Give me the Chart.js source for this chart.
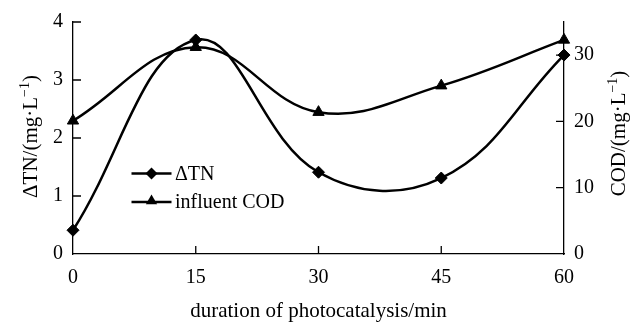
<!DOCTYPE html>
<html>
<head>
<meta charset="utf-8">
<script src="https://cdn.jsdelivr.net/npm/chart.js@4"></script>
<style>
  html, body { margin: 0; padding: 0; background: #fff; }
  #wrap { width: 638px; height: 326px; position: relative; }
</style>
</head>
<body>
<div id="wrap"><canvas id="c"></canvas></div>
<script>
// Photocatalysis duration (min)
const durations = [0, 15, 30, 45, 60];
// ΔTN removal, mg/L (left axis)
const deltaTN = [0.41, 3.69, 1.41, 1.31, 3.43];
// Influent COD, mg/L (right axis)
const influentCOD = [20.1, 31.2, 21.4, 25.4, 32.3];

const xTicks = [0, 15, 30, 45, 60];
const leftTicks = [0, 1, 2, 3, 4];
const rightTicks = [0, 10, 20, 30];

const seriesNames = ['\u0394TN', 'influent COD'];
const xTitle = 'duration of photocatalysis/min';

const FONT = '"Liberation Serif", "Times New Roman", serif';
const INK = '#000';
const AXIS_W = 1.3;

function richText(ctx, parts) {
  // parts: [{t, size, rise}]
  let w = 0;
  parts.forEach(p => { ctx.font = p.size + 'px ' + FONT; p.w = ctx.measureText(p.t).width; w += p.w; });
  let x = -w / 2;
  parts.forEach(p => {
    ctx.font = p.size + 'px ' + FONT;
    ctx.fillText(p.t, x, -(p.rise || 0));
    x += p.w;
  });
}

function marker(ctx, style, x, y, r) {
  ctx.beginPath();
  if (style === 'rectRot') {
    ctx.moveTo(x, y - r); ctx.lineTo(x + r, y); ctx.lineTo(x, y + r); ctx.lineTo(x - r, y);
  } else {
    const h = r * Math.sqrt(3) / 2;
    ctx.moveTo(x, y - r); ctx.lineTo(x + h, y + r / 2); ctx.lineTo(x - h, y + r / 2);
  }
  ctx.closePath();
  ctx.fill();
}

const decorations = {
  id: 'decorations',
  afterDraw(chart) {
    const ctx = chart.ctx;
    const { x, y, y1 } = chart.scales;
    const area = chart.chartArea;
    ctx.save();
    ctx.strokeStyle = INK;
    ctx.fillStyle = INK;
    ctx.lineWidth = AXIS_W;
    // inward tick marks
    ctx.beginPath();
    leftTicks.forEach(v => { const py = y.getPixelForValue(v); if (v > 0) { ctx.moveTo(area.left, py); ctx.lineTo(area.left + 8, py); } });
    rightTicks.forEach(v => { const py = y1.getPixelForValue(v); if (v > 0) { ctx.moveTo(area.right, py); ctx.lineTo(area.right - 8, py); } });
    xTicks.forEach(v => { const px = x.getPixelForValue(v); if (v > 0 && v < 60) { ctx.moveTo(px, area.bottom); ctx.lineTo(px, area.bottom - 8); } });
    ctx.stroke();

    // axis titles
    ctx.textAlign = 'left';
    ctx.textBaseline = 'alphabetic';
    ctx.save();
    ctx.translate((area.left + area.right) / 2, 317);
    richText(ctx, [{ t: xTitle, size: 21 }]);
    ctx.restore();

    ctx.save();
    ctx.translate(36.5, 136.5);
    ctx.rotate(-Math.PI / 2);
    richText(ctx, [{ t: '\u0394TN/(mg\u00b7L', size: 21 }, { t: '\u22121', size: 14, rise: 8 }, { t: ')', size: 21 }]);
    ctx.restore();

    ctx.save();
    ctx.translate(625, 133.5);
    ctx.rotate(-Math.PI / 2);
    richText(ctx, [{ t: 'COD/(mg\u00b7L', size: 21 }, { t: '\u22121', size: 14, rise: 8 }, { t: ')', size: 21 }]);
    ctx.restore();

    // legend inside the plot
    const rows = [
      { name: seriesNames[0], style: 'rectRot', r: 6, y: 173.5 },
      { name: seriesNames[1], style: 'triangle', r: 6.5, y: 202 }
    ];
    rows.forEach(row => {
      ctx.lineWidth = 2.5;
      ctx.beginPath();
      ctx.moveTo(131.5, row.y); ctx.lineTo(171.5, row.y);
      ctx.stroke();
      marker(ctx, row.style, 151.5, row.style === 'triangle' ? row.y - 1 : row.y, row.r);
      ctx.font = '20px ' + FONT;
      ctx.textBaseline = 'middle';
      ctx.fillText(row.name, 175, row.y + 1);
    });
    ctx.restore();
  }
};

const tickFont = { family: FONT, size: 20 };
const hiddenGrid = { display: true, drawOnChartArea: false, drawTicks: false, color: 'rgba(0,0,0,0)' };

new Chart(document.getElementById('c'), {
  type: 'line',
  data: {
    datasets: [
      {
        label: seriesNames[0],
        data: durations.map((d, i) => ({ x: d, y: deltaTN[i] })),
        yAxisID: 'y',
        borderColor: INK, backgroundColor: INK,
        borderWidth: 2.5, tension: 0.4,
        pointStyle: 'rectRot', pointRadius: 6,
        pointBackgroundColor: INK, pointBorderColor: INK, pointBorderWidth: 1,
        clip: false
      },
      {
        label: seriesNames[1],
        data: durations.map((d, i) => ({ x: d, y: influentCOD[i] })),
        yAxisID: 'y1',
        borderColor: INK, backgroundColor: INK,
        borderWidth: 2.5, tension: 0.4,
        pointStyle: 'triangle', pointRadius: 6.5,
        pointBackgroundColor: INK, pointBorderColor: INK, pointBorderWidth: 1,
        clip: false
      }
    ]
  },
  options: {
    responsive: true,
    maintainAspectRatio: false,
    animation: false,
    layout: { padding: { top: 13, left: 0, right: 0, bottom: 0 } },
    plugins: { legend: { display: false }, tooltip: { enabled: false } },
    scales: {
      x: {
        type: 'linear', min: 0, max: 60,
        afterBuildTicks: s => { s.ticks = xTicks.map(v => ({ value: v })); },
        afterFit: s => { s.height = 72; },
        grid: hiddenGrid,
        border: { display: true, color: INK, width: AXIS_W },
        ticks: { font: tickFont, color: INK, padding: 12, maxRotation: 0 }
      },
      y: {
        position: 'left', min: 0, max: 4,
        afterBuildTicks: s => { s.ticks = leftTicks.map(v => ({ value: v })); },
        afterFit: s => { s.width = 73; },
        grid: hiddenGrid,
        border: { display: true, color: INK, width: AXIS_W },
        ticks: { font: tickFont, color: INK, padding: 10 }
      },
      y1: {
        position: 'right', min: 0, max: 35,
        afterBuildTicks: s => { s.ticks = rightTicks.map(v => ({ value: v })); },
        afterFit: s => { s.width = 74; },
        grid: hiddenGrid,
        border: { display: true, color: INK, width: AXIS_W },
        ticks: { font: tickFont, color: INK, padding: 10 }
      }
    }
  },
  plugins: [decorations]
});
</script>
</body>
</html>
